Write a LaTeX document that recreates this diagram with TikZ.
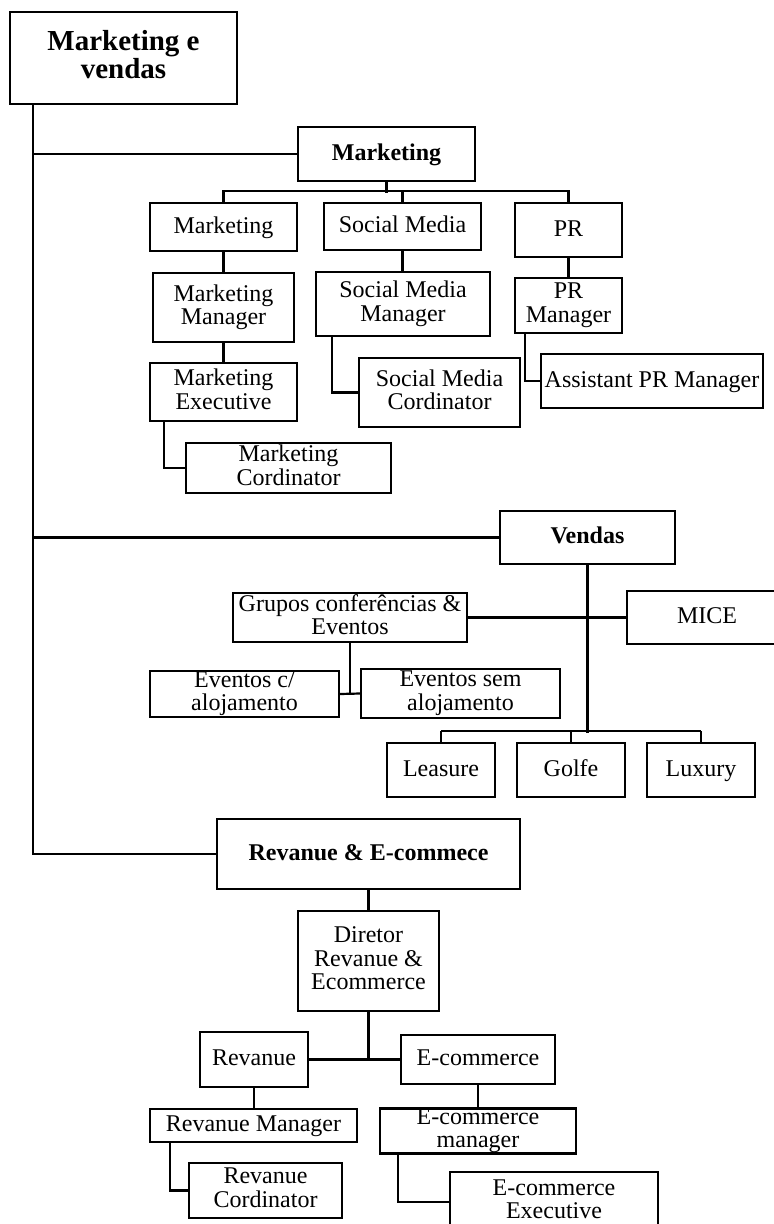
\documentclass[tikz,border=0pt]{standalone}
\usepackage{fontspec}
\setmainfont{Liberation Serif}

% Apoio de linha (altura/profundidade fixas)
\newcommand{\apoio}{\rule[-0.24em]{0pt}{0.98em}}

\begin{document}
\begin{tikzpicture}[x=1pt, y=-1pt, line width=2.2pt,
    caixa/.style={draw, align=center, inner sep=0pt, font=\fontsize{24}{23.5}\selectfont,
        execute at begin node=\apoio, execute at end node=\apoio},
    chefe/.style={caixa, font=\fontsize{24}{23.5}\selectfont\bfseries}]

    % Moldura da página
    \useasboundingbox (0,0) rectangle (774,1224);

    % Eixo principal (à esquerda)
    \def\eixoX{33}
    \coordinate (eixo) at (\eixoX,0);

    % 1. Topo
    \node[caixa, font=\fontsize{29}{28}\selectfont\bfseries, minimum width=227, minimum height=92] (mv) at (123.5,58) {Marketing e\\vendas};

    % 2. MARKETING
    \node[chefe, minimum width=177, minimum height=54] (mkt) at (386.5,154) {Marketing};

    \node[caixa, minimum width=147, minimum height=48] (mkA)  at (223.5,227)   {Marketing};
    \node[caixa, minimum width=141, minimum height=69] (mkA1) at (223.5,307.5) {Marketing\\Manager};
    \node[caixa, minimum width=147, minimum height=58] (mkA2) at (223.5,392)   {Marketing\\Executive};
    \node[caixa, minimum width=205, minimum height=50] (mkA3) at (288.5,468)   {Marketing\\Cordinator};

    \node[caixa, minimum width=157, minimum height=47] (smA)  at (402.5,226.5) {Social Media};
    \node[caixa, minimum width=174, minimum height=64] (smA1) at (403,304)     {Social Media\\Manager};
    \node[caixa, minimum width=161, minimum height=69] (smA2) at (439.5,392.5) {Social Media\\Cordinator};

    \node[caixa, minimum width=107, minimum height=54] (prA)  at (568.5,230)   {PR};
    \node[caixa, minimum width=107, minimum height=55] (prA1) at (568.5,305.5) {PR\\Manager};
    \node[caixa, minimum width=222, minimum height=54] (prA2) at (652,381)     {Assistant PR Manager};

    \draw (mkt.south) -- ++(0,11);
    \draw (mkA.north) -- ++(0,-11) -| (prA.north);
    \draw (smA.north) -- ++(0,-11);
    \draw (mkA.south) -- (mkA1.north);
    \draw (mkA1.south) -- (mkA2.north);
    \draw ([xshift=15pt]mkA2.south west) |- (mkA3.west);
    \draw (smA.south) -- (smA.south |- smA1.north);
    \draw ([xshift=17pt]smA1.south west) |- (smA2.west);
    \draw (prA.south) -- (prA1.north);
    \draw ([xshift=11pt]prA1.south west) |- (prA2.west);

    % 3. VENDAS
    \node[chefe, minimum width=175, minimum height=53] (vnd) at (587.5,537.5) {Vendas};

    \node[caixa, minimum width=234, minimum height=49] (grp)  at (350,617.5)   {Grupos conferências \&\\Eventos};
    \node[caixa, minimum width=160, minimum height=53] (mice) at (707,617.5)   {MICE};
    \node[caixa, minimum width=189, minimum height=46] (evA)  at (244.5,694)   {Eventos c/\\alojamento};
    \node[caixa, minimum width=199, minimum height=49] (evB)  at (460.5,693.5) {Eventos sem\\alojamento};

    \draw (vnd.south) -- ++(0,168);
    \draw (grp.east) -- (mice.west);
    \draw (grp.south) -- (grp.south |- evA.east);
    \draw (evA.east) -- (evB.west);

    \foreach \x/\nome/\lab in {441/lea/Leasure, 571/glf/Golfe, 701/lux/Luxury} {
        \node[caixa, minimum width=108, minimum height=54] (\nome) at (\x,770) {\lab};
        \draw (\nome.north) -- ++(0,-11);
    }
    \draw ([yshift=11pt]lea.north) -- ([yshift=11pt]lux.north);

    % 4. REVANUE & E-COMMERCE
    \node[chefe, minimum width=303, minimum height=70] (rev) at (368.5,854) {Revanue \& E-commece};

    \node[caixa, minimum width=141, minimum height=100] (dir) at (368.5,961) {Diretor\\Revanue \&\\Ecommerce};
    \node[caixa, minimum width=108, minimum height=55] (rvn)  at (254,1059.5)   {Revanue};
    \node[caixa, minimum width=154, minimum height=49] (ecm)  at (478,1059.5)   {E-commerce};
    \node[caixa, minimum width=207, minimum height=33] (rvm)  at (253.5,1125.5) {Revanue Manager};
    \node[caixa, minimum width=153, minimum height=55] (rvc)  at (265.5,1190.5) {Revanue\\Cordinator};
    \node[caixa, minimum width=196, minimum height=44] (ecmm) at (478,1131)     {E-commerce\\manager};
    \node[caixa, minimum width=208, minimum height=60] (ece)  at (554,1202)     {E-commerce\\Executive};

    \draw (rev.south) -- (dir.north);
    \draw (dir.south) -- (dir.south |- rvn.east);
    \draw (rvn.east) -- (ecm.west);
    \draw (rvn.south) -- (rvn.south |- rvm.north);
    \draw (ecm.south) -- (ecmm.north);
    \draw ([xshift=21pt]rvm.south west) |- (rvc.west);
    \draw ([xshift=19pt]ecmm.south west) |- (ece.west);

    % 5. Ligações ao eixo principal
    \draw (mv.south -| eixo) -- (eixo |- rev.west) -- (rev.west);
    \draw (eixo |- mkt.west) -- (mkt.west);
    \draw (eixo |- vnd.west) -- (vnd.west);

\end{tikzpicture}
\end{document}
